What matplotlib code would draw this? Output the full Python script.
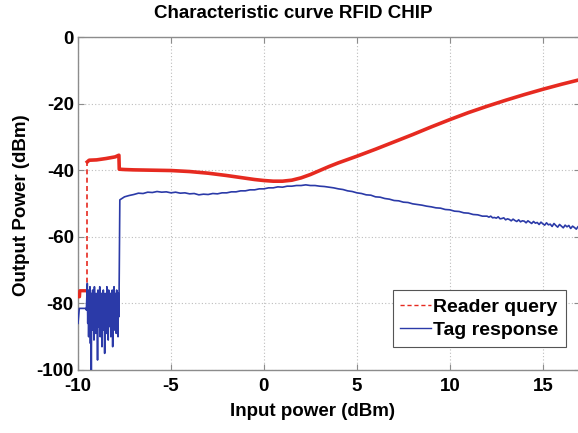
import numpy as np
import matplotlib
matplotlib.use("Agg")
import matplotlib.pyplot as plt
from matplotlib.lines import Line2D

plt.rcParams['font.family'] = ['Liberation Sans', 'DejaVu Sans']
plt.rcParams['font.weight'] = 'bold'

# ---------------- data ----------------
title = "Characteristic curve RFID CHIP"
xlabel = "Input power (dBm)"
ylabel = "Output Power (dBm)"
series_names = ["Reader query", "Tag response"]
xticks = [-10, -5, 0, 5, 10, 15]
yticks = [0, -20, -40, -60, -80, -100]

# Reader query: low level before turn-on
reader_low_x = [-10.0, -9.92, -9.9, -9.5]
reader_low_y = [-78.0, -78.0, -76.2, -76.2]
# Reader query: turn-on jump (dashed)
reader_jump_x = [-9.5, -9.5]
reader_jump_y = [-76.2, -37.5]
# Reader query: main curve
reader_x = [-9.5, -9.4, -9.0, -8.5, -8.0, -7.8, -7.78, -7.5, -7.0, -6.0, -5.0, -4.0,
            -3.0, -2.0, -1.0, -0.5, 0.0, 0.5, 1.0, 1.5, 2.0, 2.5, 3.0, 3.5, 4.0,
            5.0, 6.0, 7.0, 8.0, 9.0, 10.0, 11.0, 12.0, 13.0, 14.0, 15.0, 16.0, 17.0]
reader_y = [-37.5, -37.0, -36.9, -36.5, -36.0, -35.5, -39.7, -39.8, -39.9, -40.0, -40.1, -40.4,
            -40.9, -41.6, -42.4, -42.8, -43.1, -43.3, -43.3, -43.0, -42.3, -41.3, -40.1, -38.9, -37.8,
            -35.8, -33.7, -31.5, -29.3, -27.0, -24.8, -22.7, -20.8, -19.0, -17.3, -15.7, -14.2, -12.8]

# Tag response: before turn-on
tag_low_x = [-10.0, -9.97, -9.93, -9.6, -9.55]
tag_low_y = [-86.0, -84.0, -81.5, -81.5, -82.0]
# Tag response: noisy region between -9.5 and -7.8 dBm
tag_noise_y = [-74, -86, -76, -90, -78, -84, -75, -92, -79, -100, -77, -88, -76, -85, -79, -91,
               -75, -83, -78, -89, -77, -86, -80, -97, -76, -87, -78, -84, -75, -90, -79, -86,
               -77, -93, -80, -85, -76, -88, -78, -95, -77, -84, -79, -89, -75, -86, -78, -91,
               -76, -84, -79, -87, -77, -90, -80, -85, -76, -93, -78, -86, -75, -88, -79, -84,
               -77, -89, -76, -85, -78, -90, -77, -84]
tag_noise_start, tag_noise_end = -9.5, -7.8
# Tag response: main curve
tag_main_x1 = list(np.round(np.arange(-7.75, 12.001, 0.25), 2))
tag_main_y1 = [-48.9, -48.0, -47.6, -47.3, -46.9, -47.0, -46.6, -46.7, -46.4, -46.6, -46.5, -46.8,
               -46.6, -46.9, -46.8, -47.1, -47.0, -47.4, -47.2, -47.3, -47.0, -47.1, -46.8, -46.8,
               -46.5, -46.5, -46.2, -46.2, -45.9, -45.9, -45.6, -45.6, -45.3, -45.3, -45.0, -45.1,
               -44.8, -44.8, -44.6, -44.6, -44.4, -44.6, -44.6, -44.8, -44.9, -45.1, -45.3, -45.6,
               -45.8, -46.2, -46.4, -46.8, -47.0, -47.4, -47.5, -48.0, -48.1, -48.5, -48.7, -49.1,
               -49.2, -49.6, -49.7, -50.1, -50.3, -50.5, -50.8, -51.0, -51.3, -51.4, -51.8, -51.9,
               -52.3, -52.4, -52.8, -52.9, -53.3, -53.4, -53.8, -53.8]
tag_main_x2 = list(np.round(np.arange(12.1, 17.001, 0.1), 2))
tag_main_y2 = [-54.1, -53.8, -54.3, -54.2, -54.4, -54.0, -54.6, -54.5, -54.3, -54.9,
               -54.6, -54.8, -55.2, -54.7, -55.1, -55.4, -54.9, -55.5, -55.2, -55.3,
               -55.8, -55.2, -55.6, -56.0, -55.4, -55.9, -55.7, -56.3, -55.6, -56.1,
               -56.5, -55.8, -56.4, -56.2, -56.9, -56.0, -56.6, -57.1, -56.3, -56.8,
               -57.3, -56.5, -57.0, -56.6, -57.5, -56.8, -57.2, -57.7, -56.9, -57.3]

# ---------------- drawing ----------------
RED = '#e62a20'
BLUE = '#2b3aa8'
GRAY = '#8c8c8c'

fig = plt.figure(figsize=(5.78, 4.33), dpi=100)
ax = fig.add_axes([78/578, 1-370/433, (580-78)/578, (370-37)/433])

noise_x = np.linspace(tag_noise_start, tag_noise_end, len(tag_noise_y))
tag_x = list(tag_low_x) + list(noise_x) + tag_main_x1 + tag_main_x2
tag_y = list(tag_low_y) + list(tag_noise_y) + tag_main_y1 + tag_main_y2

ax.plot(reader_low_x, reader_low_y, color=RED, lw=2.4, solid_capstyle='butt', zorder=3)
ax.plot(reader_jump_x, reader_jump_y, color=RED, lw=1.2, ls=(0, (3, 2)), zorder=3)
ax.plot(reader_x, reader_y, color=RED, lw=2.6, zorder=3, solid_joinstyle='round')
ax.plot(tag_x, tag_y, color=BLUE, lw=1.2, zorder=4)

handles = [Line2D([], [], color=RED, lw=1.0, ls=(0, (3, 2))),
           Line2D([], [], color=BLUE, lw=1.0)]
leg = ax.legend(handles, series_names, loc='lower right', bbox_to_anchor=(0.973, 0.069),
                fancybox=False, framealpha=1, edgecolor='#555555', fontsize=14,
                handlelength=1.55, handletextpad=0.15, borderpad=0.4, labelspacing=0.3,
                borderaxespad=0)
leg.get_frame().set_linewidth(0.8)
for t in leg.get_texts():
    t.set_fontweight('bold')

ax.set_xlim(-10, 17)
ax.set_ylim(-100, 0)
ax.set_xticks(xticks)
ax.set_yticks(yticks)
ax.set_xticklabels([str(v) for v in xticks], fontsize=13.5, fontweight='bold')
ax.set_yticklabels([str(v) for v in yticks], fontsize=13.5, fontweight='bold')
ax.tick_params(direction='in', length=4, color=GRAY, top=True, right=True)
ax.tick_params(axis='x', pad=6)
ax.tick_params(axis='y', pad=3)
for s in ax.spines.values():
    s.set_color(GRAY)
    s.set_linewidth(1.0)
ax.grid(True, ls=(0, (1, 2)), color='#bdbdbd', lw=0.8)
ax.set_axisbelow(True)

fig.text(293/578, 1-14/433, title, ha='center', va='center', fontsize=13.5, fontweight='bold')
fig.text(313/578, 1-411/433, xlabel, ha='center', va='center', fontsize=13.5, fontweight='bold')
fig.text(22/578, 1-205/433, ylabel, ha='center', va='center', rotation=90, fontsize=13.5, fontweight='bold')

fig.savefig('out.png', dpi=100)
